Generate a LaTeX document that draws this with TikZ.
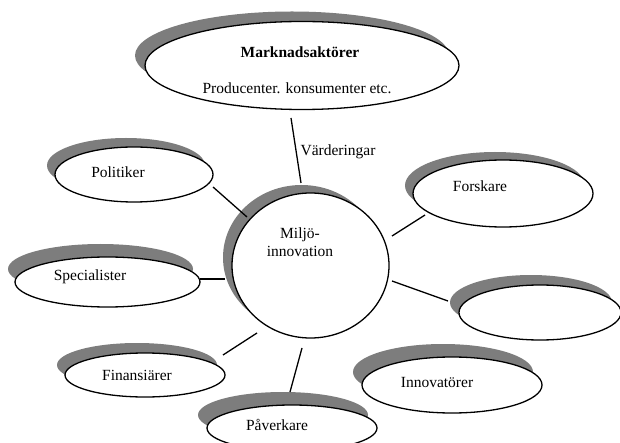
\documentclass[tikz,border=0pt]{standalone}
\usepackage{fontspec}
\setmainfont{Liberation Serif}
\usetikzlibrary{shapes.geometric,shadows,calc}
\definecolor{shadowgray}{RGB}{125,125,125}
\begin{document}
\begin{tikzpicture}[x=1pt,y=-1pt,
  bub/.style={ellipse, draw=black, fill=white, line width=1.3pt, inner sep=0pt},
  sh/.style 2 args={drop shadow={shadow xshift=#1pt, shadow yshift=#2pt, fill=shadowgray, opacity=1}},
  lbl/.style={inner sep=0pt, font=\fontsize{15.5}{18}\selectfont},
  lblb/.style={inner sep=0pt, font=\fontsize{15.5}{18}\selectfont\bfseries},
  conn/.style={line width=1.3pt}]
\fill[white] (0,0) rectangle (620,443);
\useasboundingbox (0,0) rectangle (620,443);

% bubbles
\node[bub, sh={-10}{10}, minimum width=314pt, minimum height=88pt] (mark) at (302,65.5) {};
\node[bub, sh={-9}{8}, minimum width=157pt, minimum height=145pt] (mil) at (310.5,265.5) {};
\node[bub, sh={-8}{9}, minimum width=158pt, minimum height=55pt] (pol) at (134,174.5) {};
\node[bub, sh={-7}{13}, minimum width=185pt, minimum height=50pt] (spe) at (107.5,282) {};
\node[bub, sh={-8}{8}, minimum width=180pt, minimum height=67pt] (fors) at (503,193.5) {};
\node[bub, sh={-9}{10}, minimum width=162pt, minimum height=55pt] (emp) at (540,312.5) {};
\node[bub, sh={-9}{13}, minimum width=180pt, minimum height=56pt] (inn) at (452,385) {};
\node[bub, sh={-8}{10}, minimum width=160pt, minimum height=44pt] (fin) at (145,375) {};
\node[bub, sh={-9}{13}, minimum width=170pt, minimum height=46pt] (pav) at (292,428) {};

% texts
\node[lblb] (markt) at (300,52) {Marknadsaktörer};
\node[lbl] (markt2) at (297,88) {Producenter. konsumenter etc.};
\node[lbl, align=center] (milt) at (300,242) {Miljö-\\innovation};
\node[lbl] (polt) at (118,172) {Politiker};
\node[lbl] (spet) at (90,277) {Specialister};
\node[lbl] (forst) at (480,186) {Forskare};
\node[lbl] (innt) at (437,382) {Innovatörer};
\node[lbl] (fint) at (137,375) {Finansiärer};
\node[lbl] (pavt) at (277,425) {Påverkare};
\node[lbl] (vard) at (338,152) {Värderingar};

% connectors
\draw[conn] ($(mark)+(-11,52.5)$) -- ($(mil)+(-9.5,-82.5)$);
\draw[conn] ($(pol)+(79,12.5)$) -- ($(mil)+(-63.5,-48.5)$);
\draw[conn] ($(spe)+(92.5,-3)$) -- ($(mil)+(-85.5,13.5)$);
\draw[conn] ($(fin)+(78,-20)$) -- ($(mil)+(-53.5,67.5)$);
\draw[conn] ($(pav)+(-2,-36)$) -- ($(mil)+(-8.5,82.5)$);
\draw[conn] ($(fors)+(-78,21.5)$) -- ($(mil)+(81.5,-29.5)$);
\draw[conn] ($(emp)+(-92,-11.5)$) -- ($(mil)+(81.5,15.5)$);
\end{tikzpicture}
\end{document}
